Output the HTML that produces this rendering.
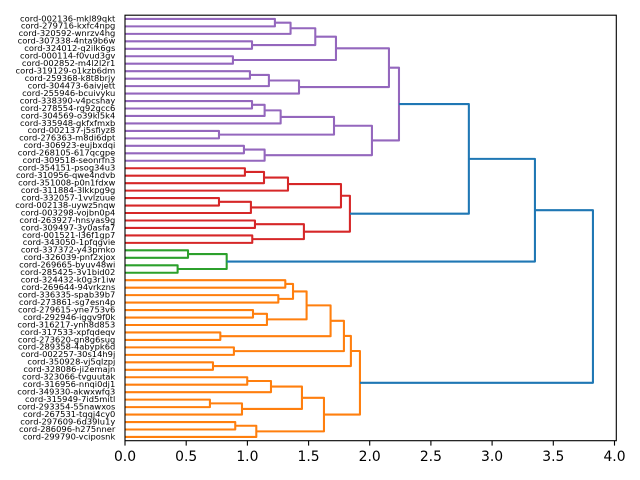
<!DOCTYPE html>
<html>
<head>
<meta charset="utf-8">
<style>
  html, body { margin: 0; padding: 0; background: #ffffff; }
  svg { display: block; }
  .lbl { font-family: "DejaVu Sans", "Liberation Sans", sans-serif; font-size: 8.33px; fill: #000; }
  .tk { font-family: "DejaVu Sans", "Liberation Sans", sans-serif; font-size: 13.89px; fill: #000; }
</style>
</head>
<body>
<svg width="640" height="480" viewBox="0 0 640 480" xmlns="http://www.w3.org/2000/svg">
  <rect x="0" y="0" width="640" height="480" fill="#ffffff"/>

  <g transform="translate(125,440.7) scale(122.37,-0.7465)" fill="none" stroke-width="2.08" stroke-linejoin="round" stroke-linecap="butt">
    <g stroke="#9467bd">
      <path vector-effect="non-scaling-stroke" d="M0 565 H1.225 V555 H0"/>
      <path vector-effect="non-scaling-stroke" d="M1.225 560 H1.353 V545 H0"/>
      <path vector-effect="non-scaling-stroke" d="M0 535 H1.038 V525 H0"/>
      <path vector-effect="non-scaling-stroke" d="M1.353 552.5 H1.555 V530 H1.038"/>
      <path vector-effect="non-scaling-stroke" d="M0 515 H0.882 V505 H0"/>
      <path vector-effect="non-scaling-stroke" d="M1.555 541.25 H1.724 V510 H0.882"/>
      <path vector-effect="non-scaling-stroke" d="M0 495 H1.021 V485 H0"/>
      <path vector-effect="non-scaling-stroke" d="M1.021 490 H1.176 V475 H0"/>
      <path vector-effect="non-scaling-stroke" d="M1.176 482.5 H1.422 V465 H0"/>
      <path vector-effect="non-scaling-stroke" d="M1.724 525.625 H2.157 V473.75 H1.422"/>
      <path vector-effect="non-scaling-stroke" d="M0 455 H1.038 V445 H0"/>
      <path vector-effect="non-scaling-stroke" d="M1.038 450 H1.141 V435 H0"/>
      <path vector-effect="non-scaling-stroke" d="M1.141 442.5 H1.272 V425 H0"/>
      <path vector-effect="non-scaling-stroke" d="M0 415 H0.768 V405 H0"/>
      <path vector-effect="non-scaling-stroke" d="M1.272 433.75 H1.708 V410 H0.768"/>
      <path vector-effect="non-scaling-stroke" d="M0 395 H0.972 V385 H0"/>
      <path vector-effect="non-scaling-stroke" d="M0.972 390 H1.141 V375 H0"/>
      <path vector-effect="non-scaling-stroke" d="M1.708 421.875 H2.018 V382.5 H1.141"/>
      <path vector-effect="non-scaling-stroke" d="M2.157 499.6875 H2.239 V402.1875 H2.018"/>
    </g>
    <g stroke="#d62728">
      <path vector-effect="non-scaling-stroke" d="M0 365 H0.980 V355 H0"/>
      <path vector-effect="non-scaling-stroke" d="M0.980 360 H1.136 V345 H0"/>
      <path vector-effect="non-scaling-stroke" d="M1.136 352.5 H1.332 V335 H0"/>
      <path vector-effect="non-scaling-stroke" d="M0 325 H0.768 V315 H0"/>
      <path vector-effect="non-scaling-stroke" d="M0.768 320 H1.029 V305 H0"/>
      <path vector-effect="non-scaling-stroke" d="M1.332 343.75 H1.765 V312.5 H1.029"/>
      <path vector-effect="non-scaling-stroke" d="M0 295 H1.062 V285 H0"/>
      <path vector-effect="non-scaling-stroke" d="M0 275 H1.040 V265 H0"/>
      <path vector-effect="non-scaling-stroke" d="M1.062 290 H1.462 V270 H1.040"/>
      <path vector-effect="non-scaling-stroke" d="M1.765 328.125 H1.838 V280 H1.462"/>
    </g>
    <g stroke="#2ca02c">
      <path vector-effect="non-scaling-stroke" d="M0 255 H0.515 V245 H0"/>
      <path vector-effect="non-scaling-stroke" d="M0 235 H0.43 V225 H0"/>
      <path vector-effect="non-scaling-stroke" d="M0.515 250 H0.831 V230 H0.43"/>
    </g>
    <g stroke="#ff7f0e">
      <path vector-effect="non-scaling-stroke" d="M0 215 H1.31 V205 H0"/>
      <path vector-effect="non-scaling-stroke" d="M0 195 H1.253 V185 H0"/>
      <path vector-effect="non-scaling-stroke" d="M1.31 210 H1.373 V190 H1.253"/>
      <path vector-effect="non-scaling-stroke" d="M0 175 H1.046 V165 H0"/>
      <path vector-effect="non-scaling-stroke" d="M1.046 170 H1.160 V155 H0"/>
      <path vector-effect="non-scaling-stroke" d="M1.373 200 H1.484 V162.5 H1.160"/>
      <path vector-effect="non-scaling-stroke" d="M0 145 H0.779 V135 H0"/>
      <path vector-effect="non-scaling-stroke" d="M1.484 181.25 H1.68 V140 H0.779"/>
      <path vector-effect="non-scaling-stroke" d="M0 125 H0.89 V115 H0"/>
      <path vector-effect="non-scaling-stroke" d="M1.68 160.625 H1.789 V120 H0.89"/>
      <path vector-effect="non-scaling-stroke" d="M0 105 H0.719 V95 H0"/>
      <path vector-effect="non-scaling-stroke" d="M1.789 140.3125 H1.846 V100 H0.719"/>
      <path vector-effect="non-scaling-stroke" d="M0 85 H0.999 V75 H0"/>
      <path vector-effect="non-scaling-stroke" d="M0.999 80 H1.193 V65 H0"/>
      <path vector-effect="non-scaling-stroke" d="M0 55 H0.694 V45 H0"/>
      <path vector-effect="non-scaling-stroke" d="M0.694 50 H0.956 V35 H0"/>
      <path vector-effect="non-scaling-stroke" d="M1.193 72.5 H1.446 V42.5 H0.956"/>
      <path vector-effect="non-scaling-stroke" d="M0 25 H0.901 V15 H0"/>
      <path vector-effect="non-scaling-stroke" d="M0.901 20 H1.073 V5 H0"/>
      <path vector-effect="non-scaling-stroke" d="M1.446 57.5 H1.626 V12.5 H1.073"/>
      <path vector-effect="non-scaling-stroke" d="M1.846 120.15625 H1.920 V35 H1.626"/>
    </g>
    <g stroke="#1f77b4">
      <path vector-effect="non-scaling-stroke" d="M2.239 450.9375 H2.810 V304.0625 H1.838"/>
      <path vector-effect="non-scaling-stroke" d="M2.810 377.5 H3.35 V240 H0.831"/>
      <path vector-effect="non-scaling-stroke" d="M3.35 308.75 H3.824 V77.578 H1.920"/>
    </g>
  </g>

  <!-- axes frame -->
  <rect x="125" y="15.2" width="491.3" height="425.5" fill="none" stroke="#000" stroke-width="1.11"/>

  <!-- x ticks -->
  <g stroke="#000" stroke-width="1.11">
    <line x1="125" y1="440.7" x2="125" y2="445.6"/>
    <line x1="186.2" y1="440.7" x2="186.2" y2="445.6"/>
    <line x1="247.4" y1="440.7" x2="247.4" y2="445.6"/>
    <line x1="308.6" y1="440.7" x2="308.6" y2="445.6"/>
    <line x1="369.7" y1="440.7" x2="369.7" y2="445.6"/>
    <line x1="430.9" y1="440.7" x2="430.9" y2="445.6"/>
    <line x1="492.1" y1="440.7" x2="492.1" y2="445.6"/>
    <line x1="553.3" y1="440.7" x2="553.3" y2="445.6"/>
    <line x1="614.5" y1="440.7" x2="614.5" y2="445.6"/>
  </g>
  <g class="tk" text-anchor="middle">
    <text x="125" y="461">0.0</text>
    <text x="186.2" y="461">0.5</text>
    <text x="247.4" y="461">1.0</text>
    <text x="308.6" y="461">1.5</text>
    <text x="369.7" y="461">2.0</text>
    <text x="430.9" y="461">2.5</text>
    <text x="492.1" y="461">3.0</text>
    <text x="553.3" y="461">3.5</text>
    <text x="614.5" y="461">4.0</text>
  </g>

  <!-- leaf labels -->
  <g class="lbl" text-anchor="end">
    <text x="115.3" y="21.27">cord-002136-mkl89qkt</text>
    <text x="115.3" y="28.73">cord-279716-kxfc4npg</text>
    <text x="115.3" y="36.20">cord-320592-wnrzv4hg</text>
    <text x="115.3" y="43.66">cord-307338-4nta9b6w</text>
    <text x="115.3" y="51.13">cord-324012-q2ilk6gs</text>
    <text x="115.3" y="58.59">cord-000114-f0vud3gv</text>
    <text x="115.3" y="66.06">cord-002852-m4l2l2r1</text>
    <text x="115.3" y="73.52">cord-319129-o1kzb6dm</text>
    <text x="115.3" y="80.99">cord-259368-k8t8brjy</text>
    <text x="115.3" y="88.45">cord-304473-6aivjett</text>
    <text x="115.3" y="95.92">cord-255946-bcuivyku</text>
    <text x="115.3" y="103.38">cord-338390-v4pcshay</text>
    <text x="115.3" y="110.85">cord-278554-rg92gcc6</text>
    <text x="115.3" y="118.31">cord-304569-o39kl5k4</text>
    <text x="115.3" y="125.78">cord-335948-qkfxfmxb</text>
    <text x="115.3" y="133.24">cord-002137-j5sfiyz8</text>
    <text x="115.3" y="140.71">cord-276363-m8di6dpt</text>
    <text x="115.3" y="148.17">cord-306923-eujbxdqi</text>
    <text x="115.3" y="155.64">cord-268105-617qcgpe</text>
    <text x="115.3" y="163.10">cord-309518-seonrfn3</text>
    <text x="115.3" y="170.57">cord-354151-psog34u3</text>
    <text x="115.3" y="178.03">cord-310956-qwe4ndvb</text>
    <text x="115.3" y="185.50">cord-351008-p0n1fdxw</text>
    <text x="115.3" y="192.96">cord-311884-3lkkpg9g</text>
    <text x="115.3" y="200.43">cord-332057-1vvlzuue</text>
    <text x="115.3" y="207.89">cord-002138-uywz5nqw</text>
    <text x="115.3" y="215.36">cord-003298-vojbn0p4</text>
    <text x="115.3" y="222.82">cord-263927-hnsyas9g</text>
    <text x="115.3" y="230.29">cord-309497-3y0asfa7</text>
    <text x="115.3" y="237.75">cord-001521-l36f1gp7</text>
    <text x="115.3" y="245.22">cord-343050-1pfqgvie</text>
    <text x="115.3" y="252.68">cord-337372-y43pmko</text>
    <text x="115.3" y="260.15">cord-326039-pnf2xjox</text>
    <text x="115.3" y="267.61">cord-269665-byuv48wi</text>
    <text x="115.3" y="275.08">cord-285425-3v1bid02</text>
    <text x="115.3" y="282.54">cord-324432-k0g3r1iw</text>
    <text x="115.3" y="290.01">cord-269644-94vrkzns</text>
    <text x="115.3" y="297.47">cord-336335-spab39b7</text>
    <text x="115.3" y="304.94">cord-273861-sg7esn4p</text>
    <text x="115.3" y="312.40">cord-279615-yne753v6</text>
    <text x="115.3" y="319.87">cord-292946-iggv9f0k</text>
    <text x="115.3" y="327.33">cord-316217-ynh8d853</text>
    <text x="115.3" y="334.80">cord-317533-xpfqdeqv</text>
    <text x="115.3" y="342.26">cord-273620-gn8g6sug</text>
    <text x="115.3" y="349.73">cord-289358-4abypk6d</text>
    <text x="115.3" y="357.19">cord-002257-30s14h9j</text>
    <text x="115.3" y="364.66">cord-350928-vj5qlzpj</text>
    <text x="115.3" y="372.12">cord-328086-ji2emajn</text>
    <text x="115.3" y="379.59">cord-323066-tvguutak</text>
    <text x="115.3" y="387.05">cord-316956-nnqi0dj1</text>
    <text x="115.3" y="394.52">cord-349330-akwxwfq3</text>
    <text x="115.3" y="401.98">cord-315949-7id5mitl</text>
    <text x="115.3" y="409.45">cord-293354-55nawxos</text>
    <text x="115.3" y="416.91">cord-267531-tqqj4cy0</text>
    <text x="115.3" y="424.38">cord-297609-6d39lu1y</text>
    <text x="115.3" y="431.84">cord-286096-h275nner</text>
    <text x="115.3" y="439.31">cord-299790-vciposnk</text>
  </g>
</svg>
</body>
</html>
